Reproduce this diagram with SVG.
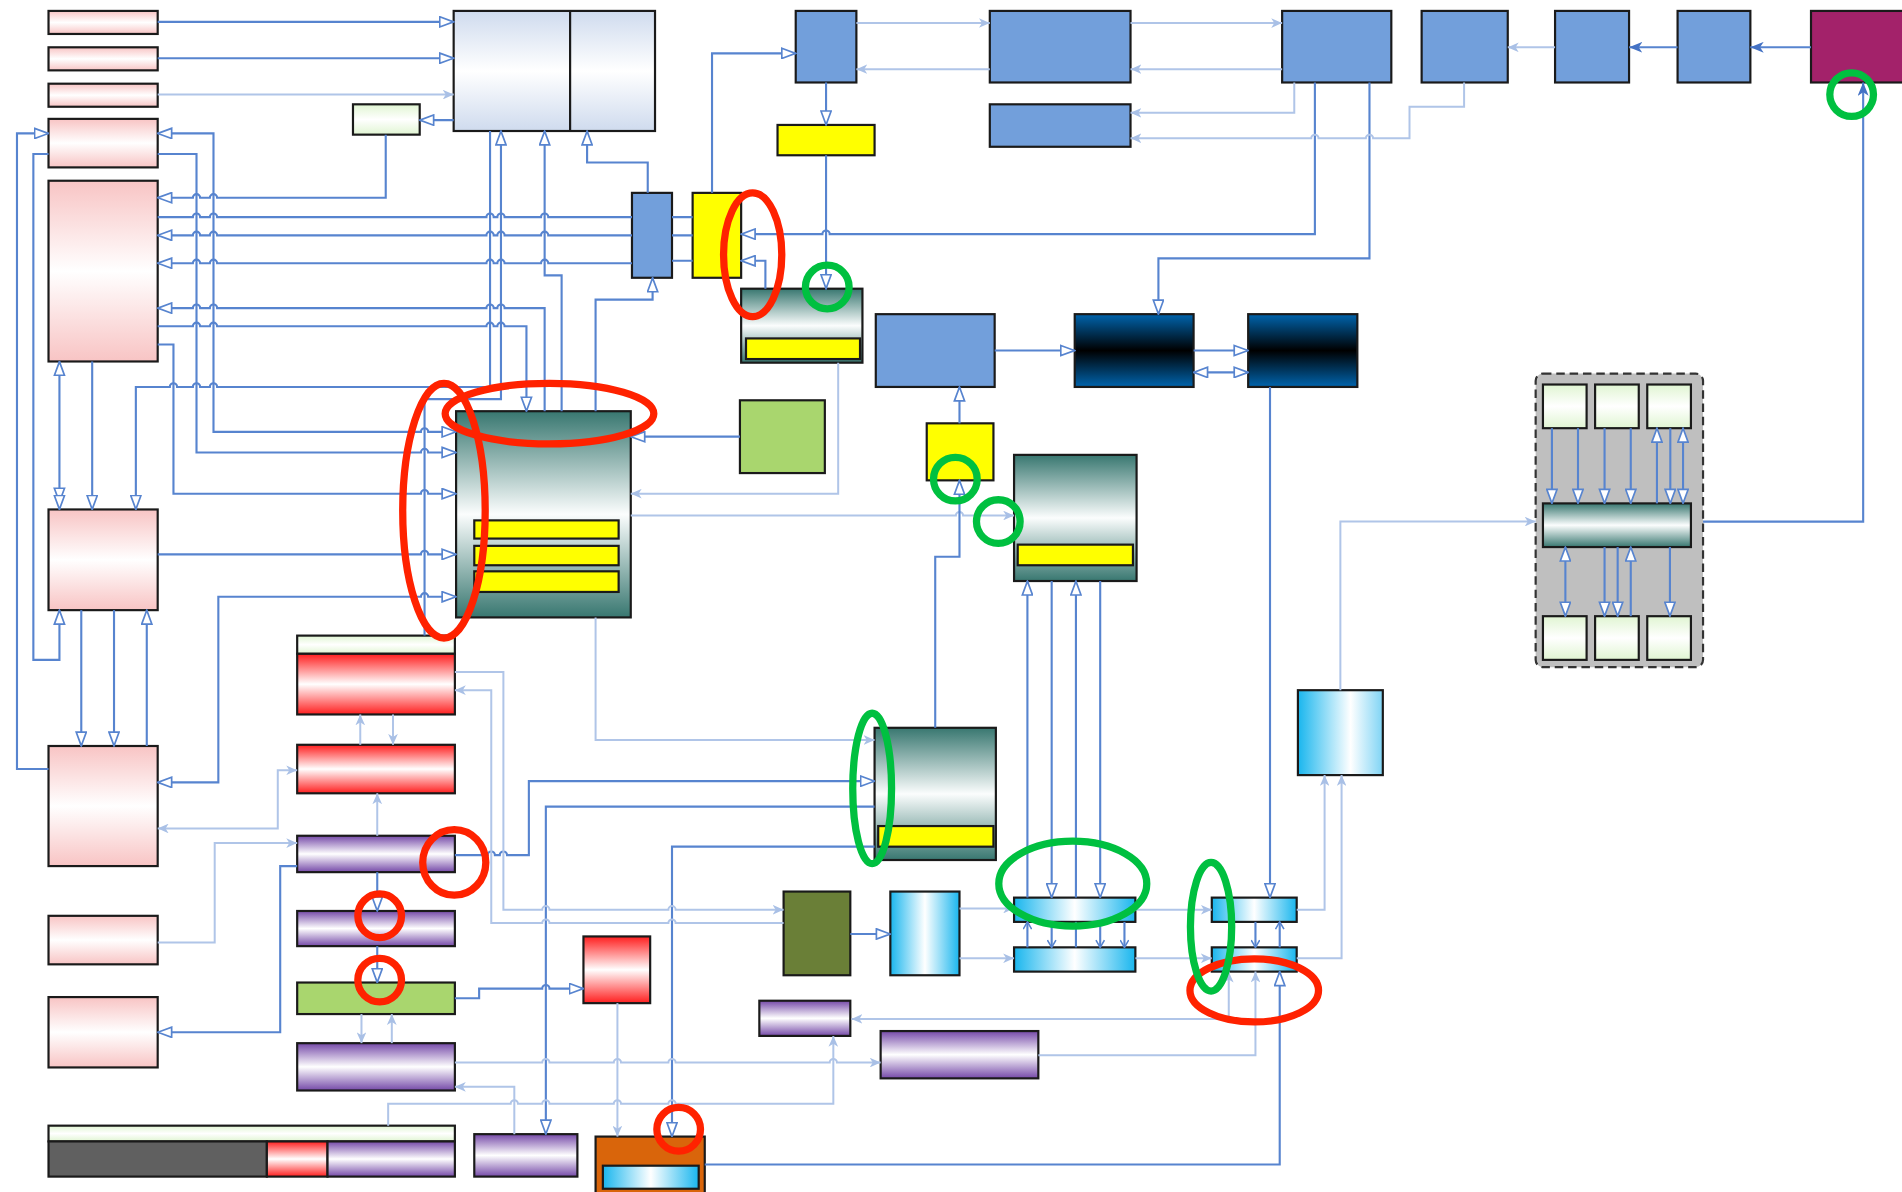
<svg xmlns="http://www.w3.org/2000/svg" width="1902" height="1192" viewBox="0 0 1902 1192">
<defs>
<style>
.d{fill:none;stroke:#5784cf;stroke-width:1.75}
.l{fill:none;stroke:#b0c5e8;stroke-width:1.65}
.b{stroke:#1a1a1a;stroke-width:1.8}
.e{marker-end:url(#ah)}
.s{marker-start:url(#ah)}
.le{marker-end:url(#al)}
.ls{marker-start:url(#al)}
.se{marker-end:url(#as)}
.ce{marker-end:url(#ac)}
.ar{fill:none;stroke:#ff2200;stroke-width:6}
.ag{fill:none;stroke:#00c040;stroke-width:6}
</style>
<marker id="ah" viewBox="0 0 13 10" refX="12.3" refY="5" markerWidth="13" markerHeight="10" markerUnits="userSpaceOnUse" orient="auto-start-reverse"><path d="M0.8,0.8 L12.2,5 L0.8,9.2 Z" fill="#fff" stroke="#5784cf" stroke-width="1.4"/></marker>
<marker id="al" viewBox="0 0 9 8" refX="9" refY="4" markerWidth="9" markerHeight="8" markerUnits="userSpaceOnUse" orient="auto-start-reverse"><path d="M0,0 L9,4 L0,8 L2.5,4 Z" fill="#a9c0e6"/></marker>
<marker id="as" viewBox="0 0 11 9" refX="11" refY="4.5" markerWidth="11" markerHeight="9" markerUnits="userSpaceOnUse" orient="auto-start-reverse"><path d="M0,0 L11,4.5 L0,9 L3,4.5 Z" fill="#4472c4"/></marker>
<marker id="ac" viewBox="0 0 7 8" refX="6.5" refY="4" markerWidth="7" markerHeight="8" markerUnits="userSpaceOnUse" orient="auto-start-reverse"><path d="M0.5,0.5 L6.5,4 L0.5,7.5" fill="none" stroke="#5784cf" stroke-width="1.3"/></marker>
<linearGradient id="gPink" x1="0" y1="0" x2="0" y2="1"><stop offset="0" stop-color="#f8c4c4"/><stop offset="0.5" stop-color="#ffffff"/><stop offset="1" stop-color="#f8c4c4"/></linearGradient>
<linearGradient id="gLb" x1="0" y1="0" x2="0" y2="1"><stop offset="0" stop-color="#cfdbee"/><stop offset="0.5" stop-color="#ffffff"/><stop offset="1" stop-color="#cfdbee"/></linearGradient>
<linearGradient id="gLg" x1="0" y1="0" x2="0" y2="1"><stop offset="0" stop-color="#e0f5d2"/><stop offset="0.5" stop-color="#ffffff"/><stop offset="1" stop-color="#e0f5d2"/></linearGradient>
<linearGradient id="gTeal" x1="0" y1="0" x2="0" y2="1"><stop offset="0" stop-color="#387770"/><stop offset="0.5" stop-color="#fbfdfd"/><stop offset="1" stop-color="#387770"/></linearGradient>
<linearGradient id="gDk" x1="0" y1="0" x2="0" y2="1"><stop offset="0" stop-color="#0064ad"/><stop offset="0.5" stop-color="#000000"/><stop offset="1" stop-color="#0064ad"/></linearGradient>
<linearGradient id="gRed" x1="0" y1="0" x2="0" y2="1"><stop offset="0" stop-color="#ff1e1e"/><stop offset="0.5" stop-color="#ffffff"/><stop offset="1" stop-color="#ff1e1e"/></linearGradient>
<linearGradient id="gPur" x1="0" y1="0" x2="0" y2="1"><stop offset="0" stop-color="#7549a8"/><stop offset="0.5" stop-color="#ffffff"/><stop offset="1" stop-color="#7549a8"/></linearGradient>
<linearGradient id="gCy" x1="0" y1="0" x2="1" y2="0"><stop offset="0" stop-color="#19b6ee"/><stop offset="0.5" stop-color="#ffffff"/><stop offset="1" stop-color="#19b6ee"/></linearGradient>
<linearGradient id="gCy2" x1="0" y1="0" x2="1" y2="0"><stop offset="0" stop-color="#19b6ee"/><stop offset="0.62" stop-color="#ffffff"/><stop offset="1" stop-color="#7fd4f5"/></linearGradient>
</defs>
<rect width="1902" height="1192" fill="#ffffff"/>
<g transform="scale(1.2130)">
<g id="nodes">
<g id="p1"><rect x="40" y="9" width="90" height="19" fill="url(#gPink)" class="b"/></g>
<g id="p2"><rect x="40" y="39" width="90" height="19" fill="url(#gPink)" class="b"/></g>
<g id="p3"><rect x="40" y="69" width="90" height="19" fill="url(#gPink)" class="b"/></g>
<g id="p4"><rect x="40" y="98" width="90" height="40" fill="url(#gPink)" class="b"/></g>
<g id="p5"><rect x="40" y="149" width="90" height="149" fill="url(#gPink)" class="b"/></g>
<g id="p6"><rect x="40" y="420" width="90" height="83" fill="url(#gPink)" class="b"/></g>
<g id="p7"><rect x="40" y="615" width="90" height="99" fill="url(#gPink)" class="b"/></g>
<g id="p8"><rect x="40" y="755" width="90" height="40" fill="url(#gPink)" class="b"/></g>
<g id="p9"><rect x="40" y="822" width="90" height="58" fill="url(#gPink)" class="b"/></g>
<g id="lb"><rect x="374" y="9" width="166" height="99" fill="url(#gLb)" class="b"/><line x1="470" y1="9" x2="470" y2="108" class="b"/></g>
<g id="gs"><rect x="291" y="86" width="55" height="25" fill="url(#gLg)" class="b"/></g>
<g id="bs"><rect x="521" y="159" width="33" height="70" fill="#729fdb" class="b"/></g>
<g id="y1"><rect x="571" y="159" width="40" height="70" fill="#ffff00" class="b"/></g>
<g id="b1"><rect x="656" y="9" width="50" height="59" fill="#729fdb" class="b"/></g>
<g id="b2"><rect x="816" y="9" width="116" height="59" fill="#729fdb" class="b"/></g>
<g id="b3"><rect x="1057" y="9" width="90" height="59" fill="#729fdb" class="b"/></g>
<g id="b4"><rect x="1172" y="9" width="71" height="59" fill="#729fdb" class="b"/></g>
<g id="b5"><rect x="1282" y="9" width="61" height="59" fill="#729fdb" class="b"/></g>
<g id="b6"><rect x="1383" y="9" width="60" height="59" fill="#729fdb" class="b"/></g>
<g id="mag"><rect x="1493" y="9" width="80" height="59" fill="#a3226a" class="b"/></g>
<g id="b7"><rect x="816" y="86" width="116" height="35" fill="#729fdb" class="b"/></g>
<g id="y2"><rect x="641" y="103" width="80" height="25" fill="#ffff00" class="b"/></g>
<g id="t1"><rect x="611" y="238" width="100" height="61" fill="url(#gTeal)" class="b"/><rect x="615" y="279" width="94" height="17" fill="#ffff00" class="b"/></g>
<g id="b8"><rect x="722" y="259" width="98" height="60" fill="#729fdb" class="b"/></g>
<g id="d1"><rect x="886" y="259" width="98" height="60" fill="url(#gDk)" class="b"/></g>
<g id="d2"><rect x="1029" y="259" width="90" height="60" fill="url(#gDk)" class="b"/></g>
<g id="gsq"><rect x="610" y="330" width="70" height="60" fill="#a9d66e" class="b"/></g>
<g id="y3"><rect x="764" y="349" width="55" height="47" fill="#ffff00" class="b"/></g>
<g id="t2"><rect x="376" y="339" width="144" height="170" fill="url(#gTeal)" class="b"/><rect x="391" y="429" width="119" height="15" fill="#ffff00" class="b"/><rect x="391" y="450" width="119" height="16" fill="#ffff00" class="b"/><rect x="391" y="471" width="119" height="17" fill="#ffff00" class="b"/></g>
<g id="t3"><rect x="836" y="375" width="101" height="104" fill="url(#gTeal)" class="b"/><rect x="839" y="449" width="95" height="17" fill="#ffff00" class="b"/></g>
<g id="cont"><rect x="1266" y="308" width="138" height="242" rx="6" fill="#bfbfbf" stroke="#333" stroke-width="1.8" stroke-dasharray="7,4"/>
<rect x="1272" y="317" width="36" height="36" fill="url(#gLg)" class="b"/><rect x="1315" y="317" width="36" height="36" fill="url(#gLg)" class="b"/><rect x="1358" y="317" width="36" height="36" fill="url(#gLg)" class="b"/>
<rect x="1272" y="415" width="122" height="36" fill="url(#gTeal)" class="b"/>
<rect x="1272" y="508" width="36" height="36" fill="url(#gLg)" class="b"/><rect x="1315" y="508" width="36" height="36" fill="url(#gLg)" class="b"/><rect x="1358" y="508" width="36" height="36" fill="url(#gLg)" class="b"/></g>
<g id="c1"><rect x="1070" y="569" width="70" height="70" fill="url(#gCy2)" class="b"/></g>
<g id="lg"><rect x="245" y="524" width="130" height="15" fill="url(#gLg)" class="b"/></g>
<g id="r1"><rect x="245" y="539" width="130" height="50" fill="url(#gRed)" class="b"/></g>
<g id="r2"><rect x="245" y="614" width="130" height="40" fill="url(#gRed)" class="b"/></g>
<g id="pu1"><rect x="245" y="689" width="130" height="30" fill="url(#gPur)" class="b"/></g>
<g id="pu2"><rect x="245" y="751" width="130" height="29" fill="url(#gPur)" class="b"/></g>
<g id="gb"><rect x="245" y="810" width="130" height="26" fill="#a9d66e" class="b"/></g>
<g id="pu3"><rect x="245" y="860" width="130" height="39" fill="url(#gPur)" class="b"/></g>
<g id="t4"><rect x="721" y="600" width="100" height="109" fill="url(#gTeal)" class="b"/><rect x="724" y="681" width="95" height="17" fill="#ffff00" class="b"/></g>
<g id="ol"><rect x="646" y="735" width="55" height="69" fill="#6a7f37" class="b"/></g>
<g id="ct"><rect x="734" y="735" width="57" height="69" fill="url(#gCy)" class="b"/></g>
<g id="cb1"><rect x="836" y="740" width="100" height="20" fill="url(#gCy)" class="b"/></g>
<g id="cb2"><rect x="836" y="781" width="100" height="20" fill="url(#gCy)" class="b"/></g>
<g id="cb3"><rect x="999" y="740" width="70" height="20" fill="url(#gCy)" class="b"/></g>
<g id="cb4"><rect x="999" y="781" width="70" height="20" fill="url(#gCy)" class="b"/></g>
<g id="rs"><rect x="481" y="772" width="55" height="55" fill="url(#gRed)" class="b"/></g>
<g id="ps"><rect x="626" y="825" width="75" height="29" fill="url(#gPur)" class="b"/></g>
<g id="pb"><rect x="726" y="850" width="130" height="39" fill="url(#gPur)" class="b"/></g>
<g id="bot"><rect x="40" y="928" width="335" height="13" fill="url(#gLg)" class="b"/><rect x="40" y="941" width="180" height="29" fill="#606060" class="b"/><rect x="220" y="941" width="50" height="29" fill="url(#gRed)" class="b"/><rect x="270" y="941" width="105" height="29" fill="url(#gPur)" class="b"/></g>
<g id="pu4"><rect x="391" y="935" width="85" height="35" fill="url(#gPur)" class="b"/></g>
<g id="or"><rect x="491" y="937" width="90" height="55" fill="#d9650b" class="b"/><rect x="497" y="961" width="79" height="19" fill="url(#gCy)" class="b"/></g>
</g>
<g id="connectors">
<path class="d e" d="M130,18 H374"/>
<path class="d e" d="M130,48 H374"/>
<path class="l le" d="M130,78 H374"/>
<path class="d e" d="M374,99 H346"/>
<path class="d e" d="M318,111 V163 H179 a3,3 0 0 0 -6,0 H165 a3,3 0 0 0 -6,0 H130"/>
<path class="d" d="M130,179 H159 a3,3 0 0 1 6,0 H173 a3,3 0 0 1 6,0 H401 a3,3 0 0 1 6,0 H410 a3,3 0 0 1 6,0 H446 a3,3 0 0 1 6,0 H521"/>
<path class="d s" d="M130,194 H159 a3,3 0 0 1 6,0 H173 a3,3 0 0 1 6,0 H401 a3,3 0 0 1 6,0 H410 a3,3 0 0 1 6,0 H446 a3,3 0 0 1 6,0 H521"/>
<path class="d s" d="M130,217 H159 a3,3 0 0 1 6,0 H173 a3,3 0 0 1 6,0 H401 a3,3 0 0 1 6,0 H410 a3,3 0 0 1 6,0 H446 a3,3 0 0 1 6,0 H521"/>
<path class="d" d="M554,179 H571 M554,194 H571 M554,215 H571"/>
<path class="d s" d="M130,254 H159 a3,3 0 0 1 6,0 H173 a3,3 0 0 1 6,0 H401 a3,3 0 0 1 6,0 H410 a3,3 0 0 1 6,0 H449 V339"/>
<path class="d e" d="M130,269 H159 a3,3 0 0 1 6,0 H173 a3,3 0 0 1 6,0 H401 a3,3 0 0 1 6,0 H410 a3,3 0 0 1 6,0 H434 V339"/>
<path class="d e" d="M130,284 H143 V407 H347 a3,3 0 0 1 6,0 H376"/>
<path class="d s e" d="M130,110 H176 V356 H347 a3,3 0 0 1 6,0 H376"/>
<path class="d e" d="M130,127 H162 V373 H347 a3,3 0 0 1 6,0 H376"/>
<path class="d e" d="M130,457 H347 a3,3 0 0 1 6,0 H376"/>
<path class="d s e" d="M130,645 H180 V492 H347 a3,3 0 0 1 6,0 H376"/>
<path class="d e" d="M404,108 V319 H179 a3,3 0 0 0 -6,0 H165 a3,3 0 0 0 -6,0 H146 a3,3 0 0 0 -6,0 H112 V420"/>
<path class="d e" d="M350,524 V329 H413 V108"/>
<path class="d e" d="M463,339 V227 H449 V108"/>
<path class="d e" d="M534,159 V134 H484 V108"/>
<path class="d e" d="M491,339 V247 H538 V229"/>
<path class="d s e" d="M49,298 V414"/>
<path class="d e" d="M49,408 V420"/>
<path class="d e" d="M76,298 V420"/>
<path class="d e" d="M67,503 V615"/>
<path class="d e" d="M94,503 V615"/>
<path class="d e" d="M121,615 V503"/>
<path class="d e" d="M40,127 H27.5 V544 H49 V503"/>
<path class="d e" d="M40,634 H14 V110 H40"/>
<path class="d e" d="M587,159 V44 H656"/>
<path class="d e" d="M681,68 V103"/>
<path class="d e" d="M681,128 V238"/>
<path class="d e" d="M1084,68 V193 H684 a3,3 0 0 0 -6,0 H611"/>
<path class="d e" d="M631,238 V215 H611"/>
<path class="d e" d="M1129,68 V213 H955 V259"/>
<path class="l le" d="M706,19 H816"/>
<path class="l le" d="M816,57 H706"/>
<path class="l le" d="M932,19 H1057"/>
<path class="l le" d="M1057,57 H932"/>
<path class="l le" d="M1067,68 V93 H932"/>
<path class="l le" d="M1207,68 V88 H1162 V114 H1132 a3,3 0 0 0 -6,0 H1087 a3,3 0 0 0 -6,0 H932"/>
<path class="l le" d="M1282,39 H1243"/>
<path class="d se" d="M1383,39 H1343"/>
<path class="d se" d="M1493,39 H1443"/>
<path class="d se" d="M1404,430 H1536 V68"/>
<path class="d e" d="M820,289 H886"/>
<path class="d e" d="M984,289 H1029"/>
<path class="d s e" d="M984,307 H1029"/>
<path class="d e" d="M1047,319 V740"/>
<path class="d e" d="M610,360 H520"/>
<path class="l le" d="M691,299 V407 H520"/>
<path class="l le" d="M520,425 H788 a3,3 0 0 1 6,0 H836"/>
<path class="d e" d="M771,600 V459 H791 V396"/>
<path class="d e" d="M791,349 V319"/>
<path class="l le" d="M491,509 V610 H721"/>
<path class="d e" d="M375,705 H402 a3,3 0 0 1 6,0 H412 a3,3 0 0 1 6,0 H436 V644 H721"/>
<path class="d e" d="M721,665 H450 V935"/>
<path class="d e" d="M721,698 H554 V937"/>
<path class="l le" d="M375,554 H415 V750 H447 a3,3 0 0 1 6,0 H551 a3,3 0 0 1 6,0 H646"/>
<path class="l le" d="M646,761 H557 a3,3 0 0 0 -6,0 H453 a3,3 0 0 0 -6,0 H405 V569 H375"/>
<path class="l le" d="M297,614 V589"/>
<path class="l le" d="M324,589 V614"/>
<path class="l le" d="M311,689 V654"/>
<path class="l ls le" d="M130,683 H229 V635 H245"/>
<path class="l le" d="M130,777 H177 V695 H245"/>
<path class="d e" d="M245,714 H231 V851 H130"/>
<path class="d e" d="M311,719 V751"/>
<path class="d e" d="M311,780 V810"/>
<path class="d e" d="M375,823 H395 V815 H447 a3,3 0 0 1 6,0 H481"/>
<path class="l le" d="M298,836 V860"/>
<path class="l le" d="M323,860 V836"/>
<path class="l le" d="M375,876 H447 a3,3 0 0 1 6,0 H506 a3,3 0 0 1 6,0 H551 a3,3 0 0 1 6,0 H684 a3,3 0 0 1 6,0 H726"/>
<path class="l le" d="M424,935 V896 H375"/>
<path class="l le" d="M320,928 V910 H421 a3,3 0 0 1 6,0 H447 a3,3 0 0 1 6,0 H506 a3,3 0 0 1 6,0 H551 a3,3 0 0 1 6,0 H687 V854"/>
<path class="l le" d="M509,827 V937"/>
<path class="l ls le" d="M1013,801 V840 H702"/>
<path class="l le" d="M856,870 H1035 V801"/>
<path class="d e" d="M581,960 H1055 V801"/>
<path class="d e" d="M701,770 H734"/>
<path class="l le" d="M791,749 H836"/>
<path class="l le" d="M791,790 H836"/>
<path class="l le" d="M936,750 H999"/>
<path class="l le" d="M936,790 H999"/>
<path class="l le" d="M1069,750 H1092 V639"/>
<path class="l le" d="M1069,790 H1106 V639"/>
<path class="l le" d="M1105,569 V430 H1266"/>
<path class="d ce" d="M1035,760 V781"/>
<path class="d ce" d="M1055,781 V760"/>
<path class="d e" d="M847,740 V479"/>
<path class="d ce" d="M847,781 V760"/>
<path class="d e" d="M867,479 V740"/>
<path class="d ce" d="M867,760 V781"/>
<path class="d e" d="M887,740 V479"/>
<path class="d" d="M887,781 V760"/>
<path class="d e" d="M907,479 V740"/>
<path class="d ce" d="M907,760 V781"/>
<path class="d ce" d="M927,760 V781"/>
<path class="d e" d="M1279.4,353 V415"/>
<path class="d e" d="M1300.9,353 V415"/>
<path class="d e" d="M1322.8,353 V415"/>
<path class="d e" d="M1344.4,353 V415"/>
<path class="d e" d="M1366,415 V353"/>
<path class="d e" d="M1377,353 V415"/>
<path class="d s e" d="M1387.5,353 V415"/>
<path class="d s e" d="M1290.5,451 V508"/>
<path class="d e" d="M1322.8,451 V508"/>
<path class="d e" d="M1333.6,451 V508"/>
<path class="d e" d="M1344.4,508 V451"/>
<path class="d e" d="M1376.7,451 V508"/>
</g>
<g id="annotations">
<ellipse class="ar" cx="620.5" cy="210" rx="24" ry="51"/>
<ellipse class="ar" cx="453" cy="341" rx="86" ry="25"/>
<ellipse class="ar" cx="366" cy="421" rx="34" ry="105"/>
<ellipse class="ar" cx="374.5" cy="711" rx="26" ry="27"/>
<ellipse class="ar" cx="313" cy="755" rx="18" ry="18"/>
<ellipse class="ar" cx="313" cy="808" rx="18" ry="18"/>
<ellipse class="ar" cx="559.5" cy="931" rx="18" ry="18"/>
<ellipse class="ar" cx="1034" cy="816.5" rx="53" ry="26"/>
<ellipse class="ag" cx="1526.5" cy="78" rx="18" ry="18"/>
<ellipse class="ag" cx="682" cy="236.6" rx="18" ry="18"/>
<ellipse class="ag" cx="787.6" cy="395" rx="18" ry="18"/>
<ellipse class="ag" cx="823" cy="430" rx="18" ry="18"/>
<ellipse class="ag" cx="719" cy="650" rx="16" ry="62"/>
<ellipse class="ag" cx="884.4" cy="728.5" rx="61" ry="35"/>
<ellipse class="ag" cx="998.4" cy="764" rx="17" ry="53"/>
</g>
</g>
</svg>
